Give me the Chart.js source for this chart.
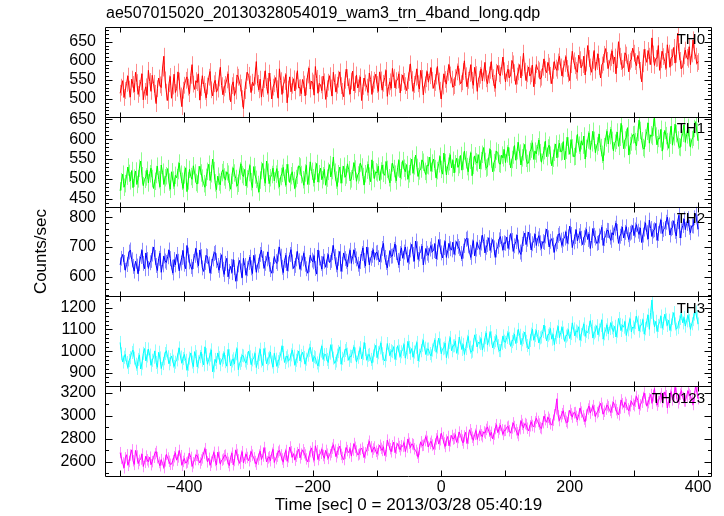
<!DOCTYPE html>
<html>
<head>
<meta charset="utf-8">
<script src="https://cdn.jsdelivr.net/npm/chart.js@4.4.1/dist/chart.umd.min.js"></script>
<style>
  html, body { margin: 0; padding: 0; background: #fff; }
  canvas { display: block; }
</style>
</head>
<body>
<canvas id="lc" width="724" height="516"></canvas>
<script>
// light curve bins: 2 s, starting at t = -500 s
const tStart = -500;
const tBin = 2;

const th0 = [
  515, 531, 548, 504, 522, 541, 560, 526, 505, 552, 538, 519, 570, 543, 512, 528, 545, 566, 498, 520,
  532, 509, 575, 546, 520, 562, 541, 515, 488, 527, 555, 537, 530, 581, 612, 550, 518, 496, 540, 559,
  502, 534, 565, 517, 528, 571, 547, 508, 480, 523, 536, 549, 558, 531, 514, 562, 590, 539, 525, 548,
  543, 566, 497, 530, 561, 538, 520, 503, 534, 557, 572, 524, 508, 540, 549, 518, 526, 555, 583, 535,
  511, 529, 538, 550, 566, 519, 493, 535, 545, 509, 521, 563, 557, 542, 530, 501, 475, 522, 548, 570,
  562, 539, 517, 544, 535, 560, 598, 541, 524, 552, 505, 527, 551, 574, 533, 515, 568, 546, 500, 531,
  540, 556, 527, 502, 579, 548, 512, 537, 546, 564, 490, 526, 558, 519, 536, 553, 521, 547, 574, 529,
  530, 514, 551, 539, 508, 532, 563, 581, 526, 547, 542, 510, 585, 554, 515, 541, 537, 522, 560, 545,
  499, 527, 544, 561, 529, 508, 570, 543, 518, 536, 552, 571, 535, 520, 506, 549, 578, 556, 532, 513,
  547, 573, 521, 538, 563, 529, 540, 558, 496, 533, 555, 542, 531, 517, 568, 551, 512, 539, 549, 565,
  538, 520, 571, 550, 523, 541, 556, 575, 507, 533, 545, 528, 580, 557, 529, 548, 550, 566, 516, 543,
  563, 546, 535, 522, 548, 569, 592, 551, 520, 538, 557, 579, 540, 526, 575, 554, 511, 537, 553, 572,
  544, 561, 582, 549, 528, 543, 560, 585, 547, 523, 500, 534, 566, 551, 539, 570, 590, 563, 552, 531,
  535, 556, 571, 587, 558, 540, 545, 572, 600, 561, 532, 549, 567, 590, 549, 536, 583, 564, 520, 552,
  562, 579, 547, 568, 596, 553, 540, 563, 575, 598, 556, 541, 528, 570, 588, 566, 561, 584, 610, 574,
  545, 567, 578, 555, 563, 601, 592, 569, 538, 560, 571, 590, 555, 582, 620, 573, 548, 566, 584, 560,
  566, 589, 532, 561, 590, 578, 574, 552, 557, 583, 605, 577, 569, 596, 586, 562, 540, 575, 598, 581,
  575, 597, 612, 584, 560, 579, 593, 611, 580, 566, 548, 590, 625, 600, 587, 575, 570, 615, 603, 582,
  590, 612, 563, 594, 640, 606, 584, 570, 601, 627, 575, 598, 618, 585, 555, 589, 596, 617, 632, 601,
  580, 597, 608, 626, 592, 610, 566, 603, 650, 612, 598, 580, 583, 621, 615, 595, 571, 599, 604, 633,
  620, 598, 587, 614, 603, 575, 545, 592, 630, 609, 596, 627, 612, 590, 660, 618, 588, 606, 607, 640,
  575, 603, 625, 611, 598, 580, 642, 620, 583, 608, 610, 635, 594, 617, 672, 624, 601, 579, 586, 613,
  628, 609, 604, 637, 590, 618, 655, 626, 612, 593, 598
];

const th1 = [
  470, 493, 512, 479, 488, 507, 530, 514, 495, 521, 478, 502, 520, 486, 500, 527, 545, 508, 483, 499,
  505, 522, 490, 513, 527, 501, 476, 494, 511, 532, 498, 480, 535, 517, 486, 503, 508, 526, 492, 474,
  518, 497, 481, 509, 503, 521, 540, 512, 494, 476, 510, 528, 468, 495, 524, 506, 499, 533, 515, 491,
  487, 510, 532, 515, 502, 488, 479, 504, 519, 537, 496, 513, 550, 521, 490, 473, 507, 492, 485, 516,
  523, 505, 497, 518, 512, 491, 474, 509, 528, 515, 501, 482, 489, 520, 538, 511, 506, 524, 482, 500,
  516, 534, 493, 478, 531, 510, 499, 486, 467, 497, 521, 539, 504, 489, 545, 517, 488, 503, 511, 527,
  495, 512, 526, 498, 480, 506, 514, 529, 502, 484, 537, 515, 491, 508, 518, 496, 476, 501, 509, 533,
  530, 511, 498, 484, 515, 534, 486, 507, 543, 519, 503, 490, 520, 539, 492, 513, 527, 498, 508, 524,
  484, 502, 519, 536, 505, 521, 555, 517, 497, 481, 513, 530, 489, 511, 532, 504, 510, 538, 523, 495,
  500, 519, 541, 525, 494, 510, 516, 540, 530, 506, 485, 513, 522, 537, 507, 493, 548, 523, 501, 518,
  515, 532, 496, 520, 535, 514, 509, 544, 524, 503, 490, 517, 540, 526, 512, 495, 528, 547, 503, 521,
  546, 527, 518, 536, 499, 513, 531, 550, 514, 533, 560, 529, 506, 520, 525, 548, 542, 519, 511, 535,
  533, 555, 519, 540, 550, 526, 502, 521, 538, 557, 524, 512, 565, 541, 510, 532, 543, 561, 528, 547,
  515, 538, 552, 529, 536, 559, 522, 545, 570, 548, 531, 518, 547, 566, 508, 534, 558, 543, 540, 561,
  525, 546, 562, 579, 544, 527, 530, 556, 575, 550, 518, 541, 549, 570, 566, 539, 537, 560, 553, 574,
  541, 563, 580, 557, 528, 549, 560, 584, 547, 571, 592, 565, 535, 553, 568, 587, 552, 539, 540, 569,
  575, 591, 549, 570, 563, 581, 598, 566, 542, 559, 571, 595, 556, 578, 585, 560, 533, 552, 567, 588,
  553, 576, 590, 568, 570, 594, 548, 572, 605, 583, 562, 599, 578, 556, 557, 588, 612, 585, 569, 596,
  585, 608, 550, 577, 598, 616, 574, 591, 620, 597, 566, 583, 592, 613, 579, 562, 545, 581, 603, 620,
  588, 609, 625, 597, 571, 590, 597, 618, 582, 605, 640, 613, 576, 598, 604, 629, 560, 584, 593, 611,
  612, 594, 583, 617, 648, 622, 596, 579, 575, 603, 620, 641, 590, 611, 607, 630, 655, 608, 586, 602,
  601, 625, 570, 596, 622, 609, 594, 577, 610, 633, 585, 606, 638, 614, 598, 581, 579, 603, 615, 636,
  592, 611, 630, 604, 580, 599, 605, 627, 644, 618, 596
];

const th2 = [
  640, 662, 675, 648, 622, 641, 660, 683, 690, 657, 635, 619, 652, 636, 610, 644, 668, 689, 645, 627,
  680, 658, 628, 647, 655, 676, 700, 665, 638, 621, 662, 679, 615, 640, 670, 653, 648, 667, 690, 661,
  632, 613, 658, 640, 675, 652, 620, 646, 665, 688, 642, 627, 705, 673, 650, 634, 625, 651, 672, 695,
  656, 637, 690, 668, 630, 618, 648, 671, 668, 643, 612, 635, 660, 678, 682, 654, 638, 622, 655, 674,
  625, 608, 645, 662, 600, 618, 635, 614, 658, 631, 585, 610, 640, 655, 620, 597, 662, 638, 605, 627,
  648, 666, 630, 611, 672, 650, 615, 639, 652, 675, 690, 661, 628, 645, 660, 683, 642, 624, 612, 637,
  668, 651, 645, 676, 700, 669, 632, 614, 655, 672, 620, 643, 675, 691, 650, 628, 638, 660, 685, 654,
  625, 646, 660, 679, 642, 627, 612, 640, 672, 656, 650, 671, 628, 609, 690, 663, 645, 626, 668, 652,
  632, 655, 675, 648, 655, 681, 705, 668, 640, 624, 662, 685, 618, 642, 680, 661, 652, 633, 670, 689,
  645, 667, 690, 671, 660, 642, 628, 651, 678, 697, 655, 636, 700, 674, 640, 662, 672, 691, 658, 680,
  682, 664, 650, 673, 695, 712, 665, 648, 630, 659, 688, 669, 670, 692, 710, 681, 655, 640, 678, 697,
  662, 683, 700, 676, 648, 667, 690, 709, 675, 652, 720, 694, 658, 677, 685, 703, 640, 666, 695, 679,
  672, 693, 705, 684, 688, 711, 660, 682, 725, 701, 680, 663, 698, 719, 665, 687, 712, 694, 690, 716,
  675, 697, 718, 702, 695, 678, 660, 686, 705, 726, 730, 704, 682, 665, 700, 721, 670, 693, 715, 699,
  692, 713, 740, 718, 680, 699, 708, 731, 688, 706, 725, 697, 665, 690, 702, 724, 735, 711, 690, 714,
  712, 733, 695, 716, 745, 722, 685, 704, 718, 740, 700, 683, 675, 709, 728, 747, 708, 726, 750, 721,
  690, 711, 722, 743, 705, 727, 738, 714, 695, 718, 715, 737, 760, 731, 700, 719, 728, 706, 682, 710,
  718, 739, 745, 723, 705, 726, 730, 751, 712, 734, 770, 742, 698, 717, 735, 758, 720, 738, 752, 729,
  708, 731, 740, 759, 725, 744, 695, 721, 762, 739, 730, 712, 715, 737, 748, 766, 705, 728, 738, 756,
  755, 733, 722, 748, 740, 763, 780, 752, 712, 736, 745, 767, 730, 749, 768, 741, 725, 746, 750, 772,
  738, 757, 775, 753, 742, 764, 715, 740, 760, 781, 748, 727, 790, 762, 735, 754, 758, 779, 722, 745,
  770, 791, 745, 758, 762, 783, 800, 774, 740, 761, 765, 788, 752, 737, 785, 806, 730, 755, 772, 794,
  758, 779, 795, 766, 748, 771, 770, 798, 812, 783, 760
];

const th3 = [
  1040, 988, 950, 972, 985, 948, 925, 957, 970, 994, 1005, 968, 940, 921, 962, 983, 918, 945, 990, 1012,
  955, 978, 1010, 982, 935, 958, 972, 1001, 948, 926, 995, 969, 920, 943, 965, 989, 1002, 974, 942, 961,
  978, 954, 930, 949, 960, 987, 1015, 973, 945, 966, 985, 958, 912, 940, 968, 992, 950, 929, 998, 976,
  928, 951, 975, 996, 958, 937, 1020, 984, 940, 963, 982, 1006, 905, 933, 962, 947, 992, 970, 938, 959,
  970, 993, 952, 931, 1008, 979, 932, 955, 965, 941, 988, 1012, 915, 944, 958, 981, 978, 955, 945, 967,
  1000, 974, 938, 960, 968, 990, 925, 948, 985, 1009, 955, 934, 1012, 986, 942, 965, 972, 996, 950, 927,
  990, 963, 930, 952, 965, 987, 1025, 994, 948, 970, 978, 955, 960, 983, 1005, 977, 935, 958, 975, 1001,
  955, 979, 995, 971, 940, 963, 982, 1004, 1018, 988, 952, 975, 970, 946, 932, 959, 1000, 1023, 962, 984,
  985, 962, 948, 991, 1030, 1001, 968, 944, 955, 982, 998, 1020, 940, 967, 980, 1003, 1012, 986, 958, 977,
  975, 999, 1020, 987, 950, 972, 992, 1016, 965, 990, 1040, 1008, 958, 981, 985, 962, 945, 978, 1005, 1027,
  970, 993, 1015, 1038, 988, 966, 955, 984, 1035, 1007, 980, 1002, 998, 1021, 962, 989, 1025, 1000, 975, 997,
  1008, 1031, 968, 994, 1045, 1017, 990, 1012, 972, 996, 1018, 1040, 955, 981, 1002, 1027, 1050, 1014, 985, 1009,
  1010, 989, 978, 1005, 1030, 1052, 995, 1019, 1060, 1028, 988, 1011, 1015, 1037, 970, 996, 1040, 1063, 1002, 1024,
  1025, 1047, 990, 1014, 1065, 1038, 1008, 1031, 985, 1012, 1045, 1068, 1018, 995, 1000, 1029, 1075, 1049, 1020, 1042,
  1035, 1058, 1005, 1027, 1062, 1084, 1028, 1051, 1090, 1061, 1015, 1039, 1048, 1072, 1025, 1003, 1002, 1036, 1070, 1046,
  1040, 1063, 1085, 1059, 1022, 1044, 1055, 1078, 1035, 1068, 1100, 1073, 1030, 1052, 1062, 1088, 1045, 1026, 1010, 1049,
  1078, 1101, 1050, 1072, 1095, 1067, 1038, 1061, 1065, 1090, 1120, 1086, 1048, 1073, 1080, 1104, 1055, 1077, 1030, 1063,
  1090, 1114, 1062, 1085, 1110, 1083, 1045, 1069, 1075, 1099, 1058, 1081, 1130, 1102, 1070, 1093, 1088, 1112, 1050, 1076,
  1102, 1125, 1068, 1091, 1085, 1108, 1140, 1113, 1060, 1084, 1092, 1117, 1075, 1097, 1118, 1143, 1055, 1080, 1098, 1121,
  1080, 1104, 1130, 1107, 1090, 1114, 1065, 1092, 1150, 1123, 1095, 1119, 1110, 1136, 1072, 1098, 1125, 1149, 1088, 1111,
  1105, 1131, 1160, 1133, 1092, 1117, 1120, 1145, 1078, 1103, 1140, 1166, 1100, 1178, 1235, 1152, 1112, 1137, 1090, 1118,
  1135, 1161, 1105, 1128, 1170, 1144, 1118, 1142, 1095, 1121, 1150, 1177, 1125, 1101, 1108, 1134, 1150, 1172, 1130, 1155,
  1115, 1139, 1165, 1141, 1100, 1126, 1145, 1170, 1180, 1153, 1125
];

const th0123 = [
  2680, 2632, 2590, 2548, 2635, 2662, 2570, 2603, 2660, 2705, 2610, 2578, 2700, 2651, 2585, 2613, 2625, 2668, 2560, 2596,
  2650, 2618, 2600, 2641, 2575, 2602, 2640, 2672, 2690, 2637, 2595, 2566, 2620, 2587, 2550, 2609, 2665, 2633, 2605, 2579,
  2580, 2611, 2645, 2680, 2615, 2643, 2700, 2654, 2570, 2604, 2630, 2590, 2598, 2627, 2675, 2639, 2560, 2592, 2620, 2658,
  2655, 2621, 2590, 2616, 2635, 2677, 2715, 2662, 2600, 2631, 2570, 2599, 2648, 2683, 2612, 2574, 2685, 2640, 2580, 2615,
  2625, 2652, 2660, 2629, 2595, 2567, 2640, 2676, 2575, 2612, 2705, 2664, 2618, 2587, 2650, 2689, 2590, 2631, 2668, 2638,
  2610, 2647, 2690, 2659, 2635, 2603, 2580, 2624, 2660, 2693, 2620, 2651, 2725, 2676, 2600, 2634, 2645, 2610, 2675, 2709,
  2595, 2628, 2650, 2686, 2700, 2661, 2625, 2597, 2665, 2699, 2605, 2643, 2730, 2688, 2640, 2672, 2615, 2649, 2680, 2711,
  2635, 2668, 2705, 2679, 2660, 2626, 2600, 2648, 2690, 2722, 2645, 2613, 2740, 2697, 2620, 2657, 2675, 2710, 2655, 2631,
  2700, 2667, 2630, 2662, 2685, 2719, 2750, 2703, 2645, 2681, 2710, 2738, 2665, 2639, 2620, 2674, 2725, 2698, 2680, 2716,
  2650, 2703, 2760, 2727, 2695, 2661, 2670, 2708, 2720, 2684, 2640, 2679, 2705, 2745, 2780, 2731, 2685, 2712, 2730, 2692,
  2670, 2706, 2745, 2718, 2700, 2732, 2655, 2694, 2790, 2751, 2715, 2688, 2740, 2772, 2680, 2719, 2760, 2734, 2705, 2741,
  2735, 2768, 2690, 2729, 2800, 2762, 2725, 2757, 2750, 2714, 2700, 2676, 2640, 2708, 2775, 2743, 2745, 2786, 2820, 2779,
  2730, 2761, 2780, 2747, 2710, 2756, 2800, 2828, 2755, 2793, 2850, 2812, 2765, 2734, 2790, 2821, 2740, 2783, 2830, 2799,
  2805, 2838, 2770, 2812, 2860, 2829, 2790, 2764, 2825, 2858, 2760, 2807, 2880, 2846, 2815, 2788, 2840, 2873, 2795, 2832,
  2870, 2836, 2820, 2861, 2850, 2883, 2905, 2867, 2830, 2858, 2800, 2842, 2890, 2924, 2855, 2887, 2920, 2879, 2840, 2873,
  2875, 2902, 2910, 2871, 2850, 2896, 2940, 2908, 2880, 2853, 2830, 2889, 2960, 2927, 2895, 2934, 2925, 2893, 2870, 2914,
  2950, 2917, 2905, 2948, 2980, 2952, 2930, 2899, 2890, 2941, 3000, 2968, 2945, 2989, 2970, 2933, 2920, 2963, 3010, 3062,
  3150, 3001, 2960, 2994, 3020, 3046, 2985, 2953, 2940, 2998, 3050, 3018, 2990, 3027, 3030, 2996, 2965, 3011, 3070, 3034,
  3000, 2973, 2950, 3008, 3060, 3087, 3025, 3052, 3090, 3047, 2995, 3029, 3040, 3076, 3110, 3068, 3015, 3041, 3060, 3095,
  3080, 3049, 3030, 3078, 3120, 3091, 3055, 3027, 3010, 3069, 3140, 3107, 3075, 3118, 3100, 3062, 3045, 3089, 3130, 3102,
  3090, 3128, 3170, 3136, 3060, 3097, 3120, 3161, 3200, 3148, 3085, 3116, 3150, 3187, 3110, 3175, 3240, 3133, 3095, 3127,
  3160, 3194, 3125, 3158, 3210, 3176, 3070, 3121, 3180, 3213, 3140, 3167, 3250, 3198, 3115, 3149, 3190, 3222, 3160, 3131,
  3130, 3172, 3220, 3189, 3175, 3141, 3100, 3168, 3260, 3203, 3150
];

const bandNames = ["TH0", "TH1", "TH2", "TH3", "TH0123"];
const bandErrors = [22, 22, 25, 30, 50];
const series = [th0, th1, th2, th3, th0123];

const bandColors = ["#ff0000", "#00ff00", "#0000ff", "#00ffff", "#ff00ff"];
const errColors = ["rgba(255,0,0,0.45)", "rgba(0,255,0,0.45)", "rgba(0,0,255,0.45)", "rgba(0,255,255,0.45)", "rgba(255,0,255,0.45)"];
const yRanges = [[453, 688], [430, 656], [534, 835], [839, 1251], [2477, 3259]];
const yMajor = [50, 50, 100, 100, 200];
const yMinor = [10, 10, 20, 20, 100];

const FONT = "'Liberation Sans', Arial, Helvetica, sans-serif";
Chart.defaults.font.family = FONT;
Chart.defaults.color = "#000";

const times = th0.map((_, i) => tStart + i * tBin);

const datasets = series.map((vals, k) => ({
  label: bandNames[k],
  data: vals.map((v, i) => ({ x: times[i], y: v })),
  yAxisID: "y" + k,
  borderColor: bandColors[k],
  borderWidth: 1,
  pointRadius: 0,
  tension: 0,
  fill: false
}));

function minus(v) {
  return v < 0 ? "\u2212" + Math.abs(v) : String(v);
}

const scales = {
  x: {
    type: "linear",
    position: "bottom",
    min: -522,
    max: 420,
    grid: { display: false, drawTicks: false },
    border: { display: false },
    ticks: {
      stepSize: 100,
      includeBounds: false,
      autoSkip: false,
      maxRotation: 0,
      padding: 2,
      font: { size: 16 },
      callback: (v) => (v % 200 === 0 ? minus(v) : "")
    },
    title: {
      display: true,
      text: "Time [sec] 0 = 2013/03/28 05:40:19",
      font: { size: 17 },
      padding: { top: 0, bottom: 0 }
    },
    afterFit: (s) => { s.height = 40; }
  }
};

// stacked panels: last added axis ends up on top
for (let k = 4; k >= 0; k--) {
  scales["y" + k] = {
    type: "linear",
    position: "left",
    stack: "panels",
    stackWeight: 1,
    offset: false,
    min: yRanges[k][0],
    max: yRanges[k][1],
    grid: { display: false, drawTicks: false },
    border: { display: false },
    ticks: {
      autoSkip: false,
      padding: 10,
      font: { size: 16 },
      callback: (v) => String(v)
    },
    afterBuildTicks: (s) => {
      const ticks = [];
      for (let v = Math.ceil(s.min / yMajor[k]) * yMajor[k]; v <= s.max; v += yMajor[k]) {
        ticks.push({ value: v });
      }
      s.ticks = ticks;
    },
    title: {
      display: k === 2,
      text: "Counts/sec",
      font: { size: 17 },
      padding: { top: 31, bottom: 0 }
    },
    afterFit: (s) => { s.width = 106; }
  };
}

const qdpFrame = {
  id: "qdpFrame",
  beforeDatasetDraw(chart, args) {
    const k = args.index;
    const ys = chart.scales["y" + k];
    const area = chart.chartArea;
    const ctx = chart.ctx;
    ctx.save();
    ctx.beginPath();
    ctx.rect(area.left, ys.top, area.right - area.left, ys.bottom - ys.top);
    ctx.clip();
    // error bars under the line
    const meta = chart.getDatasetMeta(k);
    const vals = series[k];
    ctx.strokeStyle = errColors[k];
    ctx.lineWidth = 1;
    ctx.beginPath();
    meta.data.forEach((pt, i) => {
      const x = Math.round(pt.x) + 0.5;
      ctx.moveTo(x, ys.getPixelForValue(vals[i] - bandErrors[k]));
      ctx.lineTo(x, ys.getPixelForValue(vals[i] + bandErrors[k]));
    });
    ctx.stroke();
  },
  afterDatasetDraw(chart) {
    chart.ctx.restore();
  },
  afterDraw(chart) {
    const ctx = chart.ctx;
    const area = chart.chartArea;
    const xs = chart.scales.x;
    const L = Math.round(area.left) - 0.5;
    const R = Math.round(area.right) + 0.5;
    ctx.save();
    ctx.strokeStyle = "#000";
    ctx.lineWidth = 1;
    for (let k = 0; k < 5; k++) {
      const ys = chart.scales["y" + k];
      const T = Math.round(ys.top) + 0.5;
      const B = Math.round(ys.bottom) + 0.5;
      ctx.beginPath();
      ctx.rect(L, T, R - L, B - T);
      // y ticks, both sides
      const start = Math.ceil(ys.min / yMinor[k]) * yMinor[k];
      for (let v = start; v <= ys.max; v += yMinor[k]) {
        const y = Math.round(ys.getPixelForValue(v)) + 0.5;
        const len = v % yMajor[k] === 0 ? 7 : 3.5;
        ctx.moveTo(L, y);
        ctx.lineTo(L + len, y);
        ctx.moveTo(R, y);
        ctx.lineTo(R - len, y);
      }
      // x ticks on top and bottom of every panel
      for (let t = -500; t <= 400; t += 100) {
        const x = Math.round(xs.getPixelForValue(t)) + 0.5;
        ctx.moveTo(x, T);
        ctx.lineTo(x, T + 5);
        ctx.moveTo(x, B);
        ctx.lineTo(x, B - (k === 4 ? 6 : 5));
      }
      ctx.stroke();

      ctx.fillStyle = "#000";
      ctx.font = "15px " + FONT;
      ctx.textAlign = "right";
      ctx.textBaseline = "alphabetic";
      ctx.fillText(bandNames[k], area.right - 6, ys.top + 16.5);
    }
    ctx.restore();
  }
};

new Chart(document.getElementById("lc"), {
  type: "line",
  data: { datasets },
  options: {
    responsive: false,
    devicePixelRatio: 1,
    animation: false,
    events: [],
    layout: { padding: { top: 0, right: 13, bottom: 0, left: 0 } },
    scales,
    plugins: {
      legend: { display: false },
      tooltip: { enabled: false },
      title: {
        display: true,
        text: "ae507015020_20130328054019_wam3_trn_4band_long.qdp",
        align: "start",
        fullSize: false,
        font: { size: 16, weight: "normal" },
        color: "#000",
        padding: { top: 4, bottom: 4 }
      }
    }
  },
  plugins: [qdpFrame]
});
</script>
</body>
</html>
